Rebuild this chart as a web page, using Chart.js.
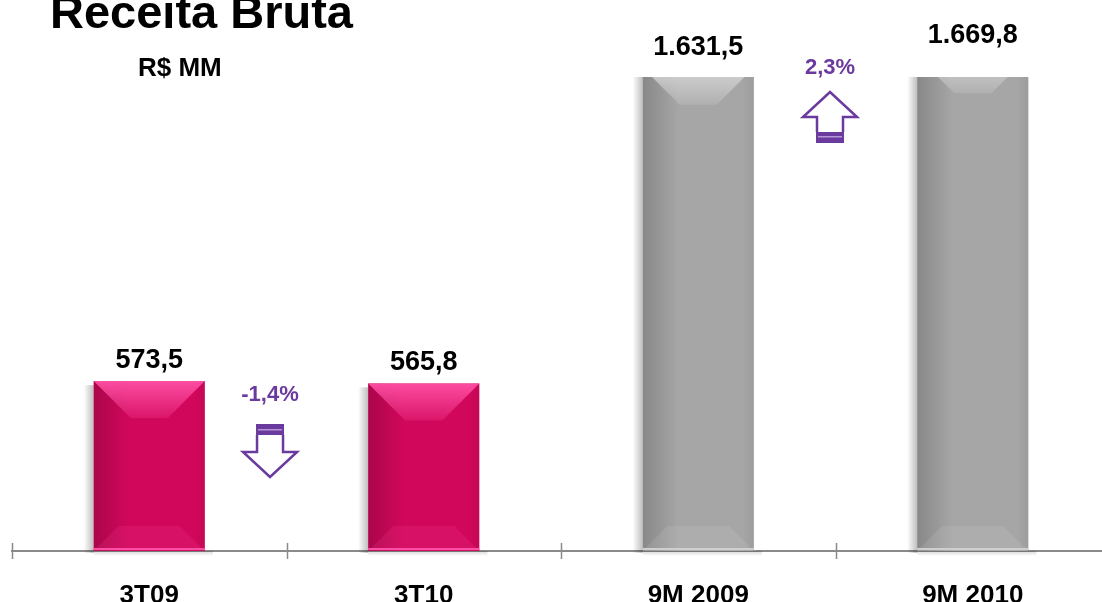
<!DOCTYPE html>
<html>
<head>
<meta charset="utf-8">
<script src="https://cdn.jsdelivr.net/npm/chart.js@4.4.1/dist/chart.umd.min.js"></script>
<style>
  html, body { margin: 0; padding: 0; overflow: hidden; background: #fff; }
  #wrap { position: relative; width: 1110px; height: 602px; }
</style>
</head>
<body>
<div id="wrap"><canvas id="chart" width="1110" height="602"></canvas></div>
<script>
// data
const categories = ['3T09', '3T10', '9M 2009', '9M 2010'];
const receita = [573.5, 565.8, 1631.5, 1669.8];
const valueLabels = ['573,5', '565,8', '1.631,5', '1.669,8'];
const changeLabels = ['-1,4%', '2,3%'];
const changeDirections = ['down', 'up'];
const titleText = 'Receita Bruta';
const unitText = 'R$ MM';

const FONT = '"Liberation Sans", Arial, Helvetica, sans-serif';
const PURPLE = '#6A3A9E';
const barColors = ['#D1075B', '#D1075B', '#A6A6A6', '#A6A6A6'];
const topFace = ['rgba(255,80,165,', 'rgba(255,80,165,', 'rgba(215,215,215,', 'rgba(215,215,215,'];
const baseLine = ['#FF4FA5', '#FF4FA5', '#CFCFCF', '#CFCFCF'];

// where the % change markers sit (between two bars)
const changeSpots = [
  { from: 0, frac: 0.44, textY: 395, arrowTop: 424 },
  { from: 2, frac: 0.48, textY: 68, arrowTop: 92 }
];

function drawArrow(ctx, cx, t, dir) {
  ctx.save();
  ctx.strokeStyle = PURPLE;
  ctx.fillStyle = '#fff';
  ctx.lineWidth = 2.5;
  ctx.lineJoin = 'miter';
  ctx.beginPath();
  if (dir === 'down') {
    ctx.moveTo(cx - 13, t + 11);
    ctx.lineTo(cx - 13, t + 28);
    ctx.lineTo(cx - 27, t + 28);
    ctx.lineTo(cx, t + 53);
    ctx.lineTo(cx + 27, t + 28);
    ctx.lineTo(cx + 13, t + 28);
    ctx.lineTo(cx + 13, t + 11);
  } else {
    ctx.moveTo(cx - 13, t + 40);
    ctx.lineTo(cx - 13, t + 25);
    ctx.lineTo(cx - 27, t + 25);
    ctx.lineTo(cx, t);
    ctx.lineTo(cx + 27, t + 25);
    ctx.lineTo(cx + 13, t + 25);
    ctx.lineTo(cx + 13, t + 40);
  }
  ctx.fill();
  ctx.stroke();
  // filled cap
  const capY = dir === 'down' ? t : t + 40;
  ctx.fillStyle = PURPLE;
  ctx.fillRect(cx - 14, capY, 28, 11);
  ctx.fillStyle = 'rgba(190,160,220,0.9)';
  ctx.fillRect(cx - 12, capY + (dir === 'down' ? 5 : 4), 24, 1.5);
  ctx.restore();
}

const decorPlugin = {
  id: 'decor',
  beforeDatasetsDraw(chart) {
    const ctx = chart.ctx;
    const area = chart.chartArea;
    const meta = chart.getDatasetMeta(0);
    ctx.save();
    ctx.beginPath();
    ctx.rect(area.left, area.top, area.right - area.left, area.bottom - area.top + 8);
    ctx.clip();
    meta.data.forEach((bar) => {
      const p = bar.getProps(['x', 'y', 'base', 'width'], true);
      const L = p.x - p.width / 2;
      const g = ctx.createLinearGradient(L - 10, 0, L, 0);
      g.addColorStop(0, 'rgba(0,0,0,0)');
      g.addColorStop(1, 'rgba(0,0,0,0.25)');
      ctx.fillStyle = g;
      ctx.fillRect(L - 10, p.y + 4, 10, p.base - p.y - 2);
      // soft shadow under the bar
      const g2 = ctx.createLinearGradient(0, p.base, 0, p.base + 5);
      g2.addColorStop(0, 'rgba(0,0,0,0.15)');
      g2.addColorStop(1, 'rgba(0,0,0,0)');
      ctx.fillStyle = g2;
      ctx.fillRect(L, p.base, p.width + 8, 5);
    });
    ctx.restore();
  },
  afterDatasetsDraw(chart) {
    const ctx = chart.ctx;
    const area = chart.chartArea;
    const meta = chart.getDatasetMeta(0);
    ctx.save();
    ctx.beginPath();
    ctx.rect(area.left, area.top, area.right - area.left, area.bottom - area.top);
    ctx.clip();
    meta.data.forEach((bar, i) => {
      const p = bar.getProps(['x', 'y', 'base', 'width'], true);
      const L = p.x - p.width / 2, R = p.x + p.width / 2;
      const h = p.base - p.y;
      // left / right shading
      const g = ctx.createLinearGradient(L, 0, R, 0);
      g.addColorStop(0, 'rgba(0,0,0,0.18)');
      g.addColorStop(0.32, 'rgba(0,0,0,0.0)');
      g.addColorStop(0.9, 'rgba(0,0,0,0.0)');
      g.addColorStop(1, 'rgba(0,0,0,0.06)');
      ctx.fillStyle = g;
      ctx.fillRect(L, p.y, p.width, h);
      // top bevel face
      const d = 37;
      const tg = ctx.createLinearGradient(0, p.y, 0, p.y + d);
      tg.addColorStop(0, topFace[i] + '0.95)');
      tg.addColorStop(1, topFace[i] + '0.2)');
      ctx.fillStyle = tg;
      ctx.beginPath();
      ctx.moveTo(L, p.y);
      ctx.lineTo(R, p.y);
      ctx.lineTo(R - d, p.y + d);
      ctx.lineTo(L + d, p.y + d);
      ctx.closePath();
      ctx.fill();
      // bottom bevel
      const b = 25;
      ctx.fillStyle = topFace[i] + '0.15)';
      ctx.beginPath();
      ctx.moveTo(L, p.base);
      ctx.lineTo(R, p.base);
      ctx.lineTo(R - b, p.base - b);
      ctx.lineTo(L + b, p.base - b);
      ctx.closePath();
      ctx.fill();
      ctx.fillStyle = baseLine[i];
      ctx.fillRect(L, p.base - 3, p.width, 2);
    });
    ctx.restore();

    // value labels
    ctx.save();
    ctx.fillStyle = '#000';
    ctx.font = 'bold 27px ' + FONT;
    ctx.textAlign = 'center';
    ctx.textBaseline = 'alphabetic';
    meta.data.forEach((bar, i) => {
      const p = bar.getProps(['x', 'y'], true);
      ctx.fillText(valueLabels[i], p.x, p.y - 13);
    });
    ctx.restore();
  },
  afterDraw(chart) {
    const ctx = chart.ctx;
    const xs = chart.scales.x;
    const area = chart.chartArea;
    // tick marks across the axis line
    const step = xs.getPixelForValue(1) - xs.getPixelForValue(0);
    ctx.save();
    ctx.strokeStyle = '#8a8a8a';
    ctx.lineWidth = 1.5;
    for (let i = 0; i <= categories.length; i++) {
      const bx = Math.round(xs.getPixelForValue(0) - step / 2 + i * step) + 0.5;
      ctx.beginPath();
      ctx.moveTo(bx, area.bottom - 8);
      ctx.lineTo(bx, area.bottom + 8);
      ctx.stroke();
    }
    ctx.restore();

    // change markers
    changeSpots.forEach((s, k) => {
      const cx = xs.getPixelForValue(s.from) + s.frac * step;
      ctx.save();
      ctx.fillStyle = PURPLE;
      ctx.font = 'bold 22px ' + FONT;
      ctx.textAlign = 'center';
      ctx.textBaseline = 'middle';
      ctx.fillText(changeLabels[k], cx, s.textY);
      ctx.restore();
      drawArrow(ctx, cx, s.arrowTop, changeDirections[k]);
    });

    // title
    ctx.save();
    ctx.fillStyle = '#000';
    ctx.textAlign = 'left';
    ctx.textBaseline = 'alphabetic';
    ctx.font = 'bold 47px ' + FONT;
    ctx.fillText(titleText, 50, 28);
    ctx.font = 'bold 26px ' + FONT;
    ctx.fillText(unitText, 138, 76);
    ctx.restore();
  }
};

new Chart(document.getElementById('chart').getContext('2d'), {
  type: 'bar',
  data: {
    labels: categories,
    datasets: [{
      data: receita,
      backgroundColor: barColors,
      borderWidth: 0,
      barPercentage: 0.405,
      categoryPercentage: 1.0
    }]
  },
  options: {
    responsive: false,
    devicePixelRatio: 1,
    animation: false,
    layout: { padding: { top: 77, left: 12, right: 0, bottom: 0 } },
    plugins: {
      legend: { display: false },
      tooltip: { enabled: false }
    },
    scales: {
      x: {
        grid: { display: false },
        border: { display: true, color: '#8a8a8a', width: 2 },
        ticks: {
          color: '#000',
          padding: 21,
          maxRotation: 0,
          font: { family: FONT, size: 26, weight: 'bold' }
        },
        afterFit(scale) { scale.height = 51; }
      },
      y: {
        display: false,
        min: 0,
        max: 1600
      }
    }
  },
  plugins: [decorPlugin]
});
</script>
</body>
</html>
